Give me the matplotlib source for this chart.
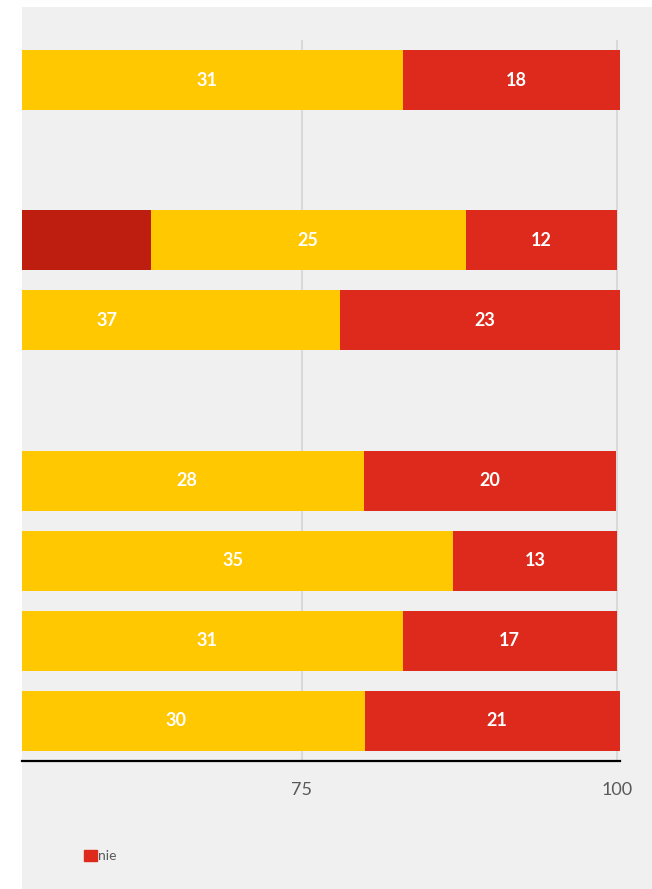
import matplotlib.pyplot as plt
from matplotlib.patches import Rectangle, Patch
import numpy as np

# rows from top to bottom (labels of the categories are outside the shown window)
rows = ['', '', '', '', '', '', '', '', '']
tak = [52, 0, 63, 41, 0, 51.9, 52, 52, 50]    # leading part of every bar
srednio = [31, 0, 25, 37, 0, 28, 35, 31, 30]  # yellow part
nie = [18, 0, 12, 23, 0, 20, 13, 17, 21]      # red part

c_tak = '#be1e10'
c_sr = '#ffc800'
c_nie = '#de2a1c'
bg = '#f0f0f0'

plt.rcParams['font.family'] = ['Lato', 'DejaVu Sans']

fig = plt.figure(figsize=(6.52, 8.89), dpi=100, facecolor='white')
fig.patches.append(Rectangle((22/652, 0), 1 - 22/652, 1 - 7/889,
                             transform=fig.transFigure, facecolor=bg,
                             edgecolor='none', zorder=-10))

ax = fig.add_axes([22/652, 1 - 761/889, 598/652, 721/889])
ax.set_facecolor(bg)

y = np.arange(len(rows))
h = 0.75
left = np.zeros(len(rows))
ax.barh(y, tak, left=left, height=h, color=c_tak, zorder=2)
left += tak
ax.barh(y, srednio, left=left, height=h, color=c_sr, zorder=2)
mid_sr = left + np.array(srednio) / 2
left += srednio
ax.barh(y, nie, left=left, height=h, color=c_nie, zorder=2)
mid_nie = left + np.array(nie) / 2

# value labels in the middle of the whole segment
for i in range(len(rows)):
    if srednio[i]:
        ax.text(mid_sr[i], y[i], str(srednio[i]), ha='center', va='center',
                color='white', fontsize=13, fontweight='bold', zorder=3)
    if nie[i]:
        ax.text(mid_nie[i], y[i], str(nie[i]), ha='center', va='center',
                color='white', fontsize=13, fontweight='bold', zorder=3)

ax.set_xlim(52.78, 100.25)
ax.set_ylim(len(rows) - 0.5, -0.5)
ax.set_xticks([75, 100])
ax.xaxis.grid(True, color='#d9d9d9', linewidth=1.5, zorder=0)
ax.set_axisbelow(True)
ax.set_yticks([])
ax.tick_params(axis='x', length=0, pad=15, labelsize=13, labelcolor='#595959')
for s in ['top', 'right', 'left']:
    ax.spines[s].set_visible(False)
ax.spines['bottom'].set_color('black')
ax.spines['bottom'].set_linewidth(1.6)

fig.legend([Patch(color=c_nie)], ['nie'], loc='center left',
           bbox_to_anchor=(84/652, 1 - 856/889), frameon=False,
           handlelength=0.9, handleheight=0.9, handletextpad=0.1,
           borderpad=0, borderaxespad=0, fontsize=10, labelcolor='#595959')

fig.savefig('out.png', dpi=100, facecolor=fig.get_facecolor())
